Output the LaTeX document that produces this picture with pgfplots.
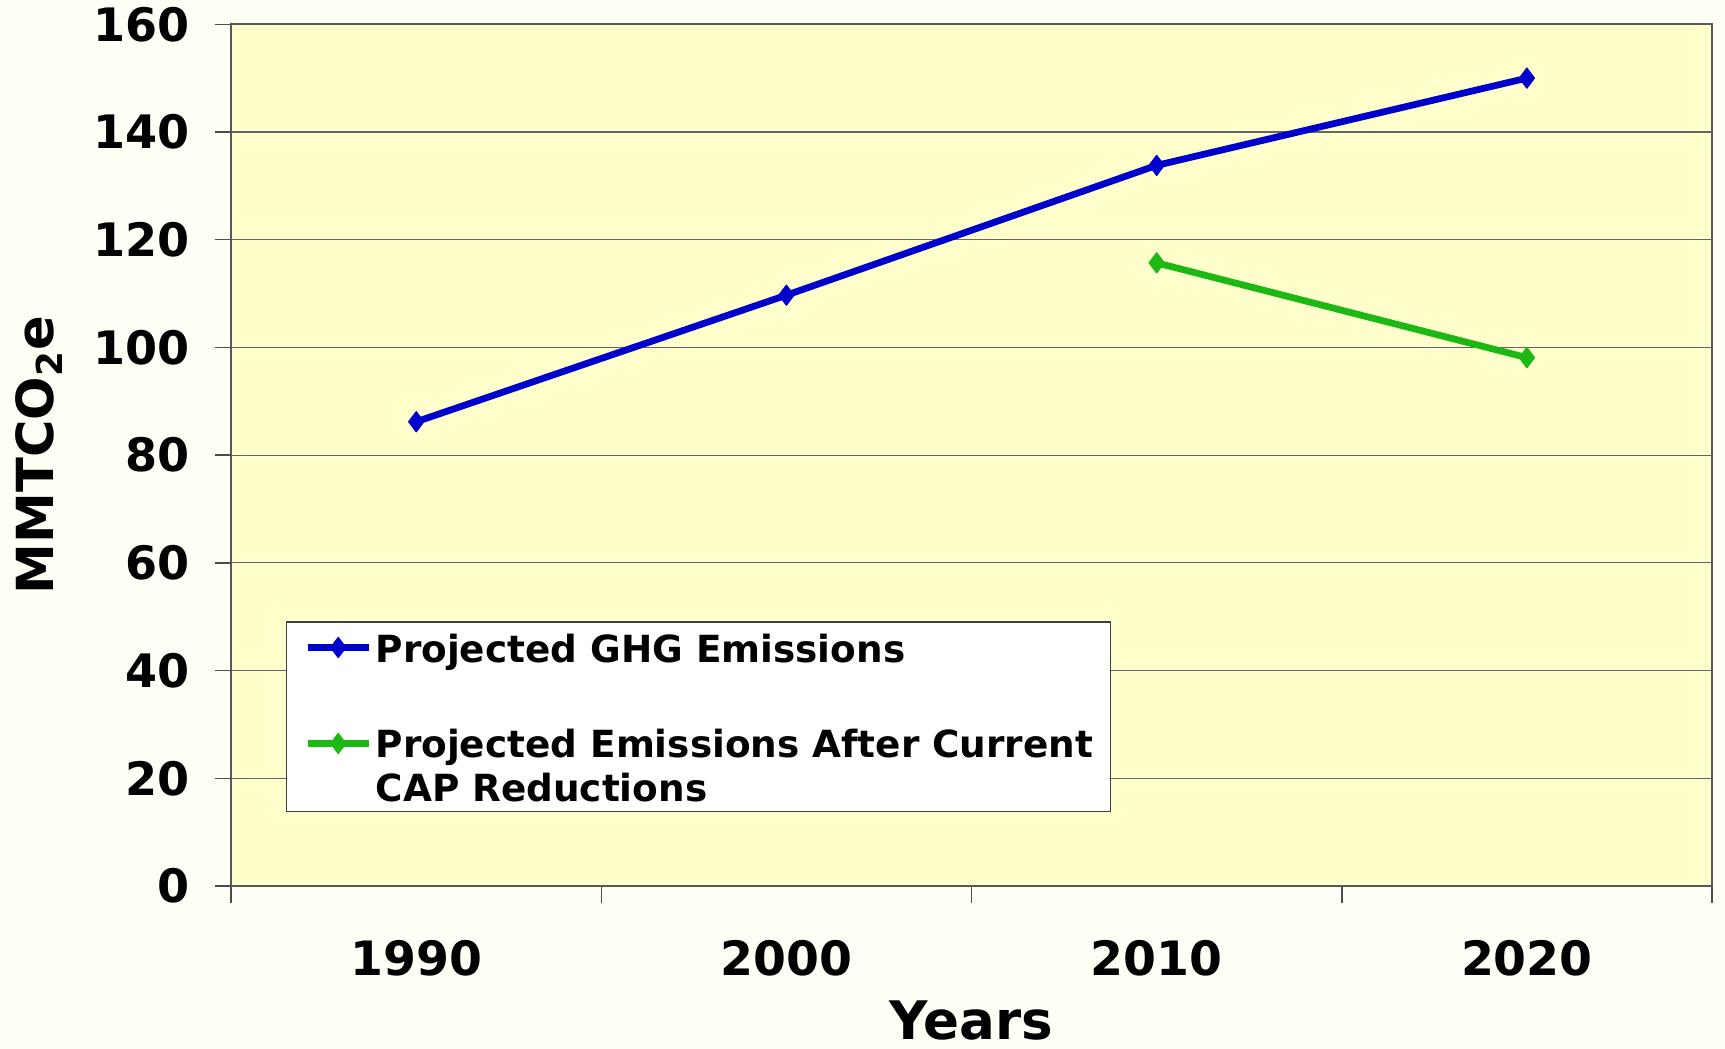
\documentclass[border=0pt]{standalone}
\usepackage{fontspec}
\setmainfont{DejaVu Sans}
\usepackage{pgfplots}
\pgfplotsset{compat=1.18}
\definecolor{pagebg}{RGB}{255,255,246}
\definecolor{plotbg}{RGB}{255,255,204}
\definecolor{ghgblue}{RGB}{0,0,204}
\definecolor{capgreen}{RGB}{30,184,20}
\begin{document}
\begin{tikzpicture}
\fill[pagebg] (-92.4bp,-65bp) rectangle (597.2bp,354.2bp);
\useasboundingbox (-92.4bp,-65bp) rectangle (597.2bp,354.2bp);
\begin{axis}[
  at={(0,0)}, anchor=south west,
  scale only axis, width=592bp, height=344.5bp,
  xmin=-0.5, xmax=3.5, ymin=0, ymax=160,
  axis background/.style={fill=plotbg},
  axis line style={draw=black!65, line width=0.8bp},
  xtick={0,1,2,3}, xticklabels={1990,2000,2010,2020},
  minor xtick={-0.5,0.5,1.5,2.5,3.5},
  ytick={0,20,...,160},
  xtick pos=bottom, ytick pos=left,
  tick align=outside,
  major tick length=6.6bp, minor tick length=6.6bp,
  tick style={draw=black!70, line width=0.6bp},
  major x tick style={draw=none},
  ymajorgrids,
  grid style={draw=black!60, line width=0.5bp},
  /pgf/number format/assume math mode=true,
  yticklabel style={anchor=east, inner sep=0pt, xshift=-9.7bp, font=\fontsize{18.5}{22}\selectfont\bfseries},
  xticklabel style={anchor=north, inner sep=0pt, yshift=-15bp, font=\fontsize{19}{22}\selectfont\bfseries},
  ylabel={MMTCO\textsubscript{2}e},
  ylabel style={at={(axis description cs:-0.146,0.5)}, rotate=0, anchor=north, inner sep=0pt, font=\fontsize{20.5}{24}\selectfont\bfseries},
  xlabel={Years},
  xlabel style={at={(axis description cs:0.5,-0.1329)}, anchor=north, inner sep=0pt, font=\fontsize{21.3}{25}\selectfont\bfseries},
  legend cell align=left,
  legend style={at={(axis description cs:0.0372,0.307)}, anchor=north west,
    draw=black!75, fill=white, line width=0.5bp, inner xsep=7bp, inner ysep=4bp,
    font=\fontsize{15}{18}\selectfont\bfseries,
    nodes={inner sep=0pt, text height=11bp, text depth=6.6bp, anchor=west},
    row sep=0pt, column sep=1.4bp},
  legend image code/.code={\draw[#1, mark repeat=2, mark phase=2] plot coordinates {(0bp,3.25bp)(12.2bp,3.25bp)(24.4bp,3.25bp)};},
]
\addplot[ghgblue, line width=2.7bp, line join=round, mark=diamond*, mark size=4bp, mark options={solid, line width=0.5bp}]
  coordinates {(0,86.2) (1,109.7) (2,133.8) (3,150.0)};
\addlegendentry[text height=12.2bp]{Projected GHG Emissions}
\addlegendimage{empty legend}
\addlegendentry[text depth=9.2bp]{\phantom{X}}
\addplot[capgreen, line width=2.7bp, line join=round, mark=diamond*, mark size=4bp, mark options={solid, line width=0.5bp}]
  coordinates {(2,115.7) (3,98.1)};
\addlegendentry{Projected Emissions After Current}
\addlegendimage{empty legend}
\addlegendentry[text depth=0bp]{CAP Reductions}
\end{axis}
\end{tikzpicture}
\end{document}
